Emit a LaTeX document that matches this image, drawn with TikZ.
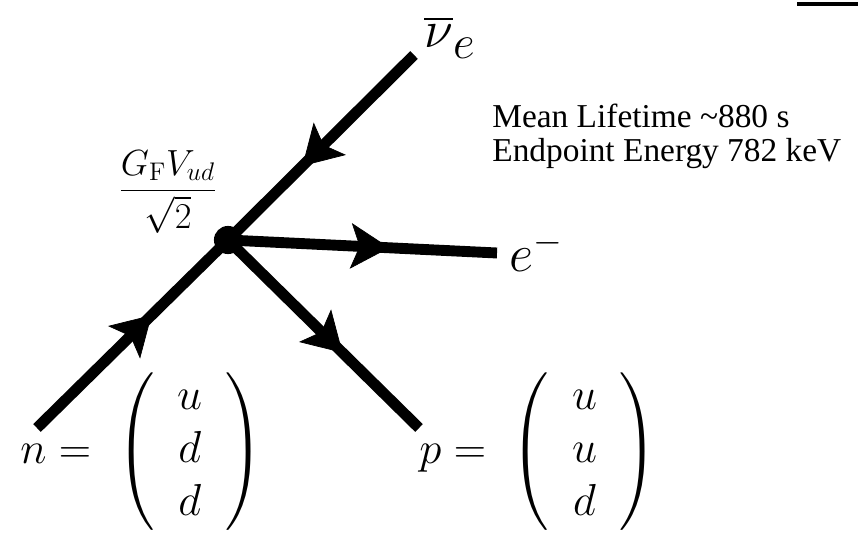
\RequirePackage{fix-cm}
\documentclass[tikz,border=0pt]{standalone}
\usepackage{amsmath}
\usepackage{fontspec}
\usepackage{tikz}
\usetikzlibrary{arrows.meta, decorations.markings}
\newfontfamily\notefont{Liberation Serif}
\setlength{\arraycolsep}{13pt}

\begin{document}
\begin{tikzpicture}[x=0.02cm, y=-0.02cm,
  fermion/.style={line width=6.2pt, postaction={decorate},
    decoration={markings, mark=at position 0.6 with {\arrow{Stealth[length=22pt,width=26pt,inset=5pt,line width=0.4pt]}}}},
  vdot/.style={circle, fill, inner sep=0pt, minimum size=16pt},
  bigmath/.style={inner sep=0pt, anchor=base west, font=\fontsize{30}{36}\selectfont},
  quark/.style={inner sep=0pt, anchor=base west, font=\fontsize{25.5}{30}\selectfont},
  note/.style={inner sep=0pt, anchor=base west, font=\notefont\fontsize{19}{20}\selectfont}]
  \useasboundingbox (0,0) rectangle (858,533);
  % vertex and the free ends of the legs
  \coordinate (vtx) at (228,240);
  \coordinate (nuend) at (414,55);
  \coordinate (nend) at (37,428);
  \coordinate (eend) at (497,253);
  \coordinate (pend) at (419,428);
  \foreach \a/\b in {nuend/vtx, nend/vtx, vtx/eend, vtx/pend}
     \draw[fermion] (\a) -- (\b);
  \node[vdot] (blob) at (vtx) {};
  % particle labels
  \node[bigmath] (nubar) at (424,48)
     {$\overline{\nu}\raisebox{-6pt}{\fontsize{27}{27}\selectfont$e$}$};
  \node[bigmath] (elab) at (509,272) {$e^-$};
  \node[inner sep=0pt, font=\fontsize{20.7}{25}\selectfont] (coup) at (168,192)
     {$\dfrac{G_{\mathrm{F}}V_{ud}}{\sqrt{2}}$};
  \node[quark] (neut) at (20,463) {$n = \;\left(\begin{array}{c} u\\ d\\ d \end{array}\right)$};
  \node[quark] (prot) at (419,463) {$p = \;\left(\begin{array}{c} u\\ u\\ d \end{array}\right)$};
  % decay data
  \node[note] (life) at (492,128) {Mean Lifetime \textasciitilde880 s};
  \node[note] (endpt) at (492,162) {Endpoint Energy 782 keV};
  % cut-off bar, top right
  \draw[line width=1.8pt] (797,4) -- (858,4);
\end{tikzpicture}
\end{document}
